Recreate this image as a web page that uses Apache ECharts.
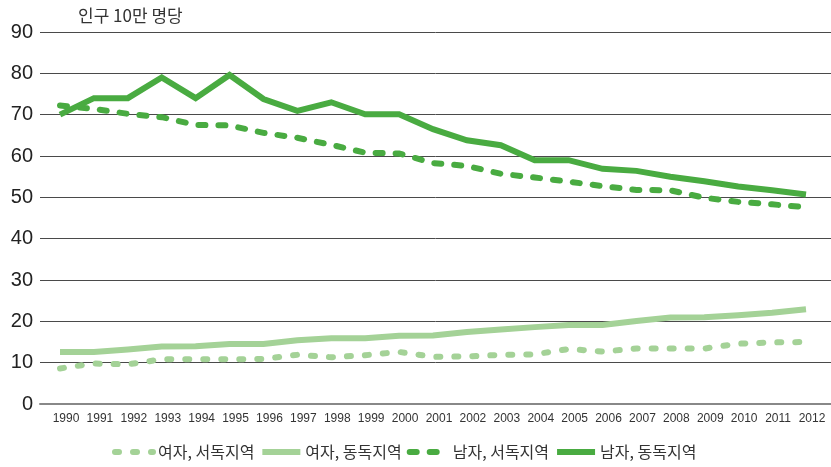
<!DOCTYPE html>
<html>
<head>
<meta charset="utf-8">
<script src="https://cdn.jsdelivr.net/npm/echarts@6/dist/echarts.min.js"></script>
<style>
  html, body { margin: 0; padding: 0; background: #fff; }
  #main { width: 831px; height: 467px; }
</style>
</head>
<body>
<div id="main"></div>
<script>
// 연도
const years = ['1990','1991','1992','1993','1994','1995','1996','1997','1998','1999','2000',
  '2001','2002','2003','2004','2005','2006','2007','2008','2009','2010','2011','2012'];

// 인구 10만 명당
const womenWest = [8.6, 9.8, 9.6, 10.8, 10.8, 10.8, 10.9, 11.9, 11.3, 11.8, 12.6,
  11.4, 11.5, 11.9, 12.0, 13.3, 12.7, 13.4, 13.4, 13.4, 14.6, 14.9, 15.0];
const womenEast = [12.6, 12.6, 13.2, 13.9, 14.0, 14.5, 14.5, 15.4, 15.9, 15.9, 16.5,
  16.6, 17.4, 18.0, 18.6, 19.1, 19.1, 20.1, 20.9, 21.0, 21.5, 22.1, 22.9];
const menWest = [72.2, 71.4, 70.2, 69.4, 67.5, 67.4, 65.6, 64.4, 62.7, 60.8, 60.6,
  58.3, 57.6, 55.7, 54.8, 53.8, 52.7, 51.8, 51.7, 49.9, 48.9, 48.3, 47.6];
const menEast = [70.0, 74.0, 74.0, 79.0, 74.0, 79.6, 73.8, 70.9, 73.0, 70.1, 70.1,
  66.5, 63.8, 62.6, 59.0, 59.0, 56.9, 56.4, 55.0, 53.9, 52.6, 51.7, 50.7];

const yTicks = [0, 90, 10]; // min, max, interval

const darkGreen = '#49ab41';
const lightGreen = '#a4d297';

const chart = echarts.init(document.getElementById('main'));

function lineSeries(name, data, color, dashed) {
  return {
    name: name,
    type: 'line',
    xAxisIndex: 1,
    yAxisIndex: 1,
    data: data,
    symbol: 'none',
    smooth: false,
    animation: false,
    lineStyle: {
      color: color,
      width: 6,
      type: dashed ? dashed : 'solid',
      cap: dashed ? 'round' : 'butt',
      join: 'miter'
    },
    itemStyle: { color: color }
  };
}

chart.setOption({
  animation: false,
  title: {
    text: '인구 10만 명당',
    left: 73,
    top: 2,
    textStyle: {
      fontFamily: 'Noto Sans CJK KR',
      fontSize: 17,
      fontWeight: 'normal',
      color: '#333'
    }
  },
  legend: {
    bottom: 2,
    left: 107,
    itemWidth: 38,
    itemHeight: 6,
    itemGap: 5,
    itemStyle: { opacity: 0 },
    lineStyle: { width: 6 },
    textStyle: {
      fontFamily: 'Noto Sans CJK KR',
      fontSize: 16,
      color: '#333',
      width: 104
    },
    data: ['여자, 서독지역', '여자, 동독지역', '남자, 서독지역', '남자, 동독지역']
  },
  grid: [
    { left: 40, right: 0, top: 32, bottom: 63 },
    { left: 60, right: 25, top: 32, bottom: 63 }
  ],
  xAxis: [
    {
      gridIndex: 0,
      type: 'value',
      min: 0,
      max: 1,
      axisLine: { show: true, onZero: true, lineStyle: { color: '#888', width: 2 } },
      axisTick: { show: false },
      axisLabel: { show: false },
      splitLine: { show: false }
    },
    {
      gridIndex: 1,
      type: 'category',
      data: years,
      boundaryGap: false,
      axisLine: { show: false },
      axisTick: { show: false },
      splitLine: { show: false },
      axisLabel: {
        interval: 0,
        hideOverlap: false,
        margin: 9,
        padding: [0, 0, 0, 12],
        fontFamily: 'Liberation Sans',
        fontSize: 12,
        color: '#333'
      }
    }
  ],
  yAxis: [
    {
      gridIndex: 0,
      type: 'value',
      min: yTicks[0],
      max: yTicks[1],
      interval: yTicks[2],
      axisLine: { show: false },
      axisTick: { show: false },
      axisLabel: {
        margin: 7,
        fontFamily: 'Liberation Sans',
        fontSize: 20,
        color: '#222'
      },
      splitLine: { show: true, lineStyle: { color: '#4a4a4a', width: 1 } }
    },
    {
      gridIndex: 1,
      type: 'value',
      min: yTicks[0],
      max: yTicks[1],
      interval: yTicks[2],
      show: false,
      splitLine: { show: false }
    }
  ],
  series: [
    lineSeries('여자, 서독지역', womenWest, lightGreen, [4, 14]),
    lineSeries('여자, 동독지역', womenEast, lightGreen, null),
    lineSeries('남자, 서독지역', menWest, darkGreen, [7, 13]),
    lineSeries('남자, 동독지역', menEast, darkGreen, null)
  ]
});
</script>
</body>
</html>
